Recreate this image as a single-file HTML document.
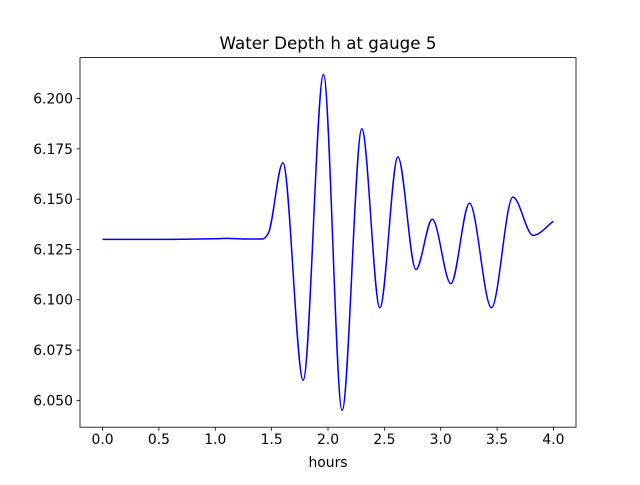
<!DOCTYPE html>
<html><head><meta charset="utf-8"><style>
body{margin:0;background:#fff;}
svg text{font-family:"DejaVu Sans","Liberation Sans",sans-serif;fill:#000;}
</style></head><body>
<svg id="chart" width="640" height="480" xmlns="http://www.w3.org/2000/svg">
<rect x="0" y="0" width="640" height="480" fill="#fff"/>
<g id="plot"></g>
<text x="328" y="49" text-anchor="middle" font-size="16.7">Water Depth h at gauge 5</text>
<text x="328" y="467" text-anchor="middle" font-size="13.9">hours</text>
</svg>
<script>
const times=[0,0.5,1.0,1.1,1.25,1.42,1.47,1.60,1.78,1.96,2.125,2.30,2.46,2.62,2.78,2.925,3.09,3.255,3.45,3.64,3.82,4.0];
const depths=[6.130,6.130,6.1303,6.1305,6.1302,6.1302,6.133,6.168,6.060,6.212,6.045,6.185,6.096,6.171,6.115,6.140,6.108,6.148,6.096,6.151,6.132,6.139];
const xTicks=[0,0.5,1.0,1.5,2.0,2.5,3.0,3.5,4.0];
const xTickLabels=["0.0","0.5","1.0","1.5","2.0","2.5","3.0","3.5","4.0"];
const yTicks=[6.050,6.075,6.100,6.125,6.150,6.175,6.200];
const yTickLabels=["6.050","6.075","6.100","6.125","6.150","6.175","6.200"];

const L=80,R=576,T=57.6,B=427.2;
const xmin=-0.2,xmax=4.2;
const dmin=Math.min(...depths),dmax=Math.max(...depths),pad=(dmax-dmin)*0.05;
const ymin=dmin-pad,ymax=dmax+pad;
const X=v=>L+(v-xmin)/(xmax-xmin)*(R-L);
const Y=v=>B-(v-ymin)/(ymax-ymin)*(B-T);
const NS="http://www.w3.org/2000/svg";
const g=document.getElementById('plot');
function mk(tag,attrs){const e=document.createElementNS(NS,tag);for(const k in attrs)e.setAttribute(k,attrs[k]);g.appendChild(e);return e;}

// monotone cubic path
const n=times.length,px=times.map(X),py=depths.map(Y);
const d=[],m=new Array(n);
for(let i=0;i<n-1;i++)d.push((py[i+1]-py[i])/(px[i+1]-px[i]));
m[0]=d[0];m[n-1]=d[n-2];
for(let i=1;i<n-1;i++){ if(d[i-1]*d[i]<=0)m[i]=0; else m[i]=2/(1/d[i-1]+1/d[i]); }
let p="M"+px[0]+","+py[0];
for(let i=0;i<n-1;i++){const h=(px[i+1]-px[i])/3;
 p+=" C"+(px[i]+h)+","+(py[i]+m[i]*h)+" "+(px[i+1]-h)+","+(py[i+1]-m[i+1]*h)+" "+px[i+1]+","+py[i+1];}
const line=mk('path',{d:p,fill:'none',stroke:'#0000ff','stroke-width':1.5});



const frame=mk('rect',{x:L,y:T,width:R-L,height:B-T,fill:'none',stroke:'#000','stroke-width':0.8});



xTicks.forEach((v,i)=>{
 const t=mk('line',{x1:X(v),x2:X(v),y1:B,y2:B+3.5,stroke:'#000','stroke-width':0.8});
 
 
 const tx=mk('text',{x:X(v),y:B+17,'text-anchor':'middle','font-size':13.9});
 tx.textContent=xTickLabels[i];
 
 
});
yTicks.forEach((v,i)=>{
 const t=mk('line',{x1:L-3.5,x2:L,y1:Y(v),y2:Y(v),stroke:'#000','stroke-width':0.8});
 
 
 const tx=mk('text',{x:L-7,y:Y(v)+5,'text-anchor':'end','font-size':13.9});
 tx.textContent=yTickLabels[i];
 
 
});
</script>
</body></html>
